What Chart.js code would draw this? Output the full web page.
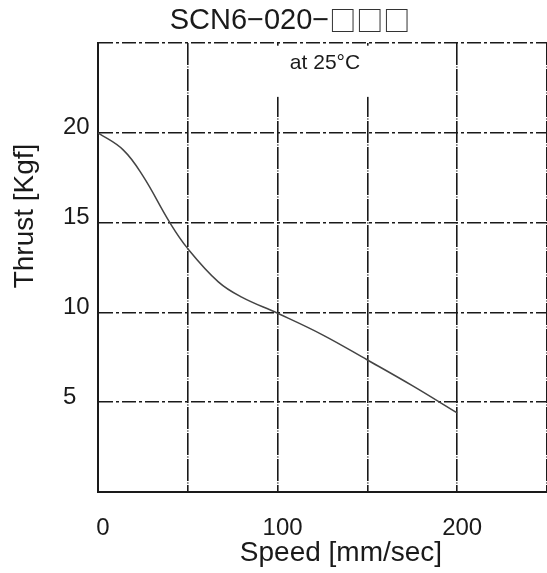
<!DOCTYPE html>
<html>
<head>
<meta charset="utf-8">
<script src="https://cdn.jsdelivr.net/npm/chart.js@4/dist/chart.umd.min.js"></script>
<style>
  html, body { margin: 0; padding: 0; background: #fff; }
  #chart { display: block; }
</style>
</head>
<body>
<canvas id="chart" width="547" height="573"></canvas>
<script>
// thrust curve
const speeds  = [0, 14, 25, 40, 50, 67, 80, 100, 125, 150, 175, 200];
const thrusts = [20.0, 19.05, 17.6, 15.0, 13.55, 11.7, 10.85, 9.95, 8.75, 7.35, 5.92, 4.4];

const xLabelsShown = [0, 100, 200];
const yLabelsShown = [5, 10, 15, 20];

const titleModel = 'SCN6\u2212020\u2212';
const titleBoxes = '\u25A1\u25A1\u25A1';
const noteText = 'at 25\u00B0C';
const xTitle = 'Speed [mm/sec]';
const yTitle = 'Thrust [Kgf]';

const FONT = '"Liberation Sans", Arial, sans-serif';
const CJK = '"Noto Sans CJK JP", sans-serif';
const INK = '#1a1a1a';

// texts drawn on the canvas, plus the white box behind the note that hides the tops of two grid lines
const textPlugin = {
  id: 'texts',
  beforeDatasetsDraw(chart){
    const ctx = chart.ctx;
    const x = chart.scales.x, y = chart.scales.y;
    ctx.save();
    ctx.fillStyle = '#fff';
    const bx1 = x.getPixelForValue(55), bx2 = x.getPixelForValue(195);
    const by1 = y.getPixelForValue(24.85), by2 = y.getPixelForValue(22.0);
    ctx.fillRect(bx1, by1, bx2 - bx1, by2 - by1);
    ctx.fillStyle = INK;
    ctx.font = '21px ' + FONT;
    ctx.textAlign = 'center';
    ctx.textBaseline = 'middle';
    ctx.fillText(noteText, 325, 63);
    ctx.restore();
  },
  afterDraw(chart){
    const ctx = chart.ctx;
    ctx.save();
    ctx.fillStyle = INK;
    ctx.textBaseline = 'middle';
    // title: model number + three placeholder boxes
    ctx.font = '29px ' + FONT;
    const w1 = ctx.measureText(titleModel).width;
    ctx.font = '27px ' + CJK;
    const w2 = ctx.measureText(titleBoxes).width;
    let tx = 290 - (w1 + w2) / 2;
    ctx.textAlign = 'left';
    ctx.font = '29px ' + FONT;
    ctx.fillText(titleModel, tx, 21);
    ctx.font = '27px ' + CJK;
    ctx.fillStyle = '#333';
    ctx.fillText(titleBoxes, tx + w1, 21);
    ctx.fillStyle = INK;
    ctx.textAlign = 'center';
    ctx.font = '28px ' + FONT;
    ctx.fillText(xTitle, 341, 553);
    ctx.translate(25, 216);
    ctx.rotate(-Math.PI / 2);
    ctx.fillText(yTitle, 0, 0);
    ctx.restore();
  }
};

new Chart(document.getElementById('chart'), {
  type: 'line',
  data: {
    datasets: [{
      data: speeds.map((s, i) => ({x: s, y: thrusts[i]})),
      borderColor: '#444',
      borderWidth: 1.5,
      pointRadius: 0,
      tension: 0.4,
      fill: false
    }]
  },
  options: {
    responsive: false,
    animation: false,
    devicePixelRatio: 1,
    layout: { padding: { left: 63, top: 43, right: 0, bottom: 0 } },
    plugins: { legend: { display: false }, tooltip: { enabled: false }, title: { display: false } },
    scales: {
      x: {
        type: 'linear',
        min: 0, max: 250,
        afterFit(scale){ scale.height = 81; scale.paddingLeft = 0; scale.paddingRight = 0; },
        grid: { color: INK, lineWidth: 1.6, drawTicks: false },
        border: { display: true, color: INK, width: 2, dash: [22, 1.5, 1, 1.5] },
        ticks: {
          stepSize: 50,
          autoSkip: false,
          maxRotation: 0,
          padding: 22,
          labelOffset: 5,
          color: INK,
          font: { family: FONT, size: 24 },
          callback: v => xLabelsShown.includes(v) ? String(v) : ''
        }
      },
      y: {
        type: 'linear',
        min: 0, max: 25,
        afterFit(scale){ scale.width = 35; scale.paddingTop = 0; scale.paddingBottom = 0; },
        grid: { color: INK, lineWidth: 1.6, drawTicks: false },
        border: { display: true, color: INK, width: 2, dash: [14, 3, 3, 3] },
        ticks: {
          stepSize: 5,
          crossAlign: 'far',
          labelOffset: -5,
          color: INK,
          font: { family: FONT, size: 24 },
          callback: v => yLabelsShown.includes(v) ? String(v) : ''
        }
      }
    }
  },
  plugins: [textPlugin]
});
</script>
</body>
</html>
